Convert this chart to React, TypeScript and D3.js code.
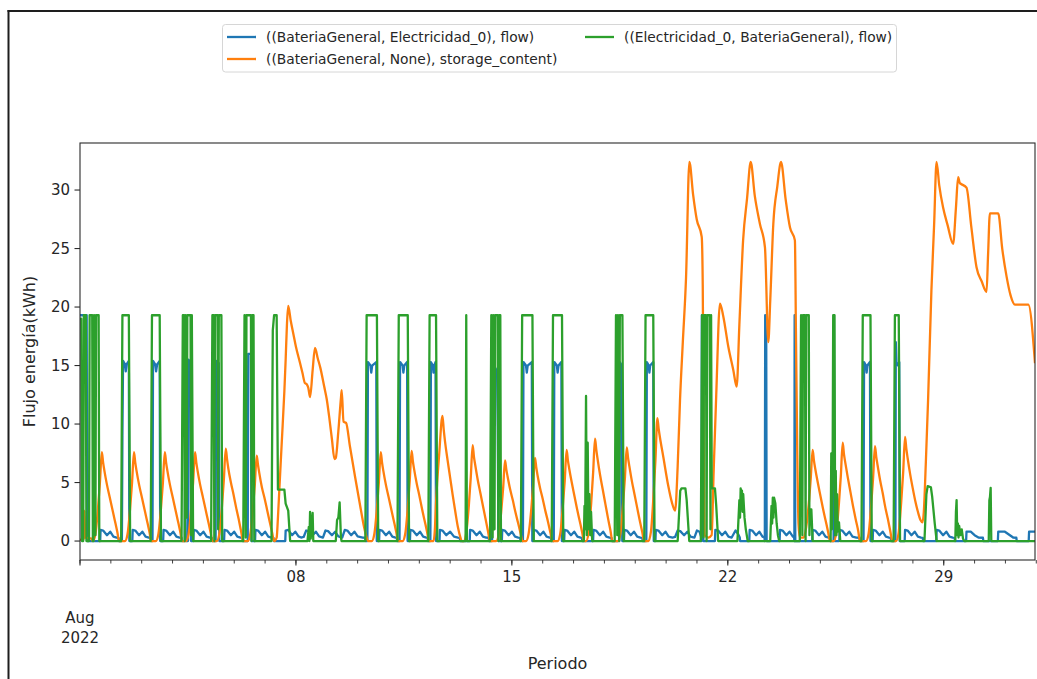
import React, { useEffect, useRef } from "react";
import * as d3 from "d3";

// Hourly battery data for August 2022. Each point is [hours since 2022-08-01 00:00, kWh].
const seriesLabels = [
  "((BateriaGeneral, Electricidad_0), flow)",
  "((BateriaGeneral, None), storage_content)",
  "((Electricidad_0, BateriaGeneral), flow)",
];
const seriesColors = ["#1f77b4", "#ff7f0e", "#2ca02c"];

const yTickValues = [0, 5, 10, 15, 20, 25, 30];
const monthLabel = ["Aug", "2022"];
const xAxisTitle = "Periodo";
const yAxisTitle = "Flujo energía(kWh)";

// Battery -> grid discharge flow
const dischargeFlow: [number, number][] = [
  [0, 19.3], [5.2, 19.3], [5.6, 0],
  [15.7, 0], [16, 0.95], [18, 0.9], [21, 0.5], [23.5, 0.8], [26, 0.38], [28.5, 0.3], [30, 0.28], [30.3, 0],
  [32.6, 0], [33, 9], [33.5, 15.4], [35, 15.1], [35.6, 14.5], [36.2, 15.1], [38, 15.4], [38.4, 0],
  [40.7, 0], [41, 0.95], [43, 0.9], [46, 0.5], [48.5, 0.8], [51, 0.38], [53.5, 0.3], [55, 0.28], [55.3, 0],
  [56.4, 0], [56.8, 15.4], [58.5, 15.1], [59.2, 14.5], [60, 15.1], [62, 15.4], [62.4, 0],
  [64.7, 0], [65, 0.95], [67, 0.9], [70, 0.5], [72.5, 0.8], [75, 0.38], [77.5, 0.3], [79, 0.28], [79.3, 0],
  [81.5, 0], [81.8, 5.2], [82.2, 0], [84, 0], [84.4, 15.5], [86, 15.3], [86.4, 0],
  [88.2, 0], [88.5, 0.95], [90.5, 0.9], [93.5, 0.5], [96, 0.8], [98.5, 0.38], [101, 0.3], [102.5, 0.28], [102.8, 0],
  [105.5, 0], [105.9, 15.4], [108, 15.2], [108.4, 0],
  [112.1, 0], [112.4, 0.95], [114.4, 0.9], [117.4, 0.5], [119.9, 0.8], [122.4, 0.38], [124.9, 0.3], [126.4, 0.28], [126.7, 0],
  [130.5, 0], [130.9, 16], [133, 16], [133.4, 0],
  [136.2, 0], [136.5, 0.95], [138.5, 0.9], [141.5, 0.5], [144, 0.8], [146.5, 0.38], [149, 0.3], [150.5, 0.28], [150.8, 0],
  [159.7, 0], [160, 0.9], [162, 0.95], [165, 0.5], [167.5, 0.8], [170, 0.4], [172, 0.3], [174, 0.35], [176, 0.9],
  [178, 0.85], [181, 0.5], [183.5, 0.8], [186, 0.4], [189, 0.3], [191, 0.9], [193, 0.85], [196, 0.5], [198.5, 0.8],
  [201, 0.4], [204, 0.3], [206, 0.95], [208, 0.9], [211, 0.5], [213.5, 0.8], [216, 0.4], [220, 0.3], [222, 0.28], [222.3, 0],
  [223.6, 0], [224, 15.3], [226, 15], [226.6, 14.4], [227.3, 15], [230.5, 15.3], [230.9, 0],
  [232.7, 0], [233, 0.95], [235, 0.9], [238, 0.5], [240.5, 0.8], [243, 0.38], [245.5, 0.3], [246.5, 0.28], [246.8, 0],
  [248.6, 0], [249, 15.3], [251, 15], [251.6, 14.4], [252.3, 15], [254.5, 15.3], [254.9, 0],
  [256.7, 0], [257, 0.95], [259, 0.9], [262, 0.5], [264.5, 0.8], [267, 0.38], [269.5, 0.3], [270.5, 0.28], [270.8, 0],
  [272.6, 0], [273, 15.3], [274.5, 15], [275, 14.4], [275.6, 15], [276.6, 15.3], [277, 0],
  [279.7, 0], [280, 0.95], [282, 0.9], [285, 0.5], [288, 0.8], [291, 0.38], [294, 0.3], [295.5, 0.28], [295.8, 0],
  [303.2, 0], [303.5, 0.95], [305.5, 0.9], [308.5, 0.5], [311, 0.8], [313.5, 0.38], [316, 0.3], [318, 0.28], [318.3, 0],
  [320.6, 0], [321, 15.2], [323, 14.8], [324.5, 14.5], [325, 9.9], [325.5, 0],
  [328.2, 0], [328.5, 0.95], [330.5, 0.9], [333.5, 0.5], [336, 0.8], [338.5, 0.38], [341, 0.3], [342.5, 0.28], [342.8, 0],
  [344.6, 0], [345, 15.3], [347, 15], [347.6, 14.4], [348.3, 15], [351.5, 15.3], [351.9, 0],
  [352.7, 0], [353, 0.95], [355, 0.9], [358, 0.5], [360.5, 0.8], [363, 0.38], [365.5, 0.3], [366.5, 0.28], [366.8, 0],
  [368.6, 0], [369, 15.3], [371, 15], [371.6, 14.4], [372.3, 15], [374.5, 15.3], [374.9, 0],
  [376.7, 0], [377, 0.95], [379, 0.9], [382, 0.5], [384.5, 0.8], [387, 0.38], [389.5, 0.3], [390.5, 0.28], [390.8, 0],
  [399.2, 0], [399.5, 0.95], [401.5, 0.9], [404.5, 0.5], [407, 0.8], [409.5, 0.38], [412, 0.3], [413.5, 0.28], [413.8, 0],
  [419.6, 0], [420, 15.3], [421.5, 15], [421.9, 0],
  [423.2, 0], [423.5, 0.95], [425.5, 0.9], [428.5, 0.5], [431, 0.8], [433.5, 0.38], [436, 0.3], [437.5, 0.28], [437.8, 0],
  [440.6, 0], [441, 15.3], [442.5, 15], [443, 14.4], [443.6, 15], [446, 15.3], [446.4, 0],
  [447.7, 0], [448, 0.95], [450, 0.9], [453, 0.5], [455.5, 0.8], [458, 0.38], [461, 0.3], [463, 0.35], [465, 0.9],
  [467, 0.85], [470, 0.5], [472.5, 0.8], [475, 0.38], [478, 0.3], [480, 0.9], [482, 0.8], [483.4, 0.3], [483.6, 0],
  [483.8, 19.3], [484.6, 14.6], [485, 0],
  [494, 0], [494.3, 0.95], [496.5, 0.9], [499.5, 0.5], [502, 0.8], [504.5, 0.38], [507, 0.3], [510, 0.9], [512, 0.6], [513.3, 0.3], [513.6, 0],
  [520.7, 0], [521, 0.95], [523, 0.9], [526, 0.5], [528.5, 0.8], [531, 0.38], [532.5, 0.3], [532.8, 0],
  [533.1, 19.3], [533.9, 17.2], [534.2, 0],
  [544.3, 0], [544.6, 0.95], [546.6, 0.9], [549.6, 0.5], [552, 0.8], [554.5, 0.4], [555.6, 0.3], [555.8, 0],
  [556.0, 19.3], [556.5, 0],
  [569.7, 0], [570, 0.95], [572, 0.9], [575, 0.5], [577.5, 0.8], [580, 0.38], [582, 0.3], [583.5, 0.28], [583.8, 0],
  [586.3, 0], [586.6, 19.3], [587, 0],
  [590.7, 0], [591, 0.95], [593, 0.9], [596, 0.5], [598.5, 0.8], [601, 0.38], [604, 0.3], [606.5, 0.28], [606.8, 0],
  [609.6, 0], [610, 15.3], [611.5, 15], [612, 14.4], [612.6, 15], [614.6, 15.3], [615, 0],
  [616.7, 0], [617, 0.95], [619, 0.9], [622, 0.5], [624.5, 0.8], [627, 0.38], [629.5, 0.3], [630.8, 0.28], [631.1, 0],
  [634.4, 0], [634.7, 17], [635.2, 15.3], [636.5, 15], [637.4, 15.3], [637.7, 0],
  [641.6, 0], [641.9, 0.95], [643.9, 0.9], [646.9, 0.5], [649.4, 0.8], [651.9, 0.38], [654.4, 0.3], [655.7, 0.28], [656, 0],
  [666.2, 0], [666.5, 0.95], [668.5, 0.9], [671.5, 0.5], [674, 0.8], [676.5, 0.38], [679, 0.3], [680.5, 0.28], [680.8, 0],
  [689.4, 0], [689.7, 0.8], [693, 0.8], [696, 0.5], [699, 0.3], [702.5, 0.28], [702.8, 0],
  [714.1, 0], [714.4, 0.8], [719.6, 0.8], [723.5, 0.5], [726, 0.3], [728.5, 0.28], [728.8, 0],
  [738.1, 0], [738.4, 0.8], [743, 0.8],
];

// Stored energy in the battery
const storageContent: [number, number][] = [
  [0, 0.1], [3, 0.2], [3.5, 2.6], [4, 0.3], [9, 0.2], [10, 0], [12, 0.6], [14, 2.8], [15.5, 5.0], [17, 7.6],
  [18, 6.7], [19, 6.0], [21, 4.8], [23, 3.8], [25, 2.8], [27, 1.8], [29, 0.8], [30.5, 0],
  [35, 0], [37, 0.6], [39, 2.8], [40.5, 5.0], [42, 7.6], [43, 6.7], [44, 6.0], [46, 4.8], [48, 3.8], [50, 2.8], [52, 1.8], [54, 0.8], [55.5, 0],
  [59, 0], [61, 0.6], [63, 2.8], [64.5, 5.0], [66, 7.6], [67, 6.7], [68, 6.0], [70, 4.8], [72, 3.8], [74, 2.8], [76, 1.8], [78, 0.8], [79.5, 0],
  [82.5, 0], [84.5, 0.6], [86.5, 2.8], [88, 5.0], [89.5, 7.6], [90.5, 6.7], [91.5, 6.0], [93.5, 4.8], [95.5, 3.8], [97.5, 2.8], [99.5, 1.8], [101.5, 0.8], [103, 0],
  [106.4, 0], [108.4, 0.6], [110.4, 2.9], [111.9, 5.2], [113.4, 7.9], [114.4, 7.0], [115.4, 6.2], [117.4, 5.0], [119.4, 4.0], [121.4, 2.9], [123.4, 1.9], [125.4, 0.8], [126.9, 0],
  [130.5, 0], [132.5, 0.6], [134.5, 2.7], [136, 4.8], [137.5, 7.3], [138.5, 6.5], [139.5, 5.8], [141.5, 4.6], [143.5, 3.7], [145.5, 2.7], [147.5, 1.7], [149.5, 0.7], [151, 0],
  [153, 0.3], [154, 2.0], [155, 4.2], [157, 8.5], [159, 12.8], [160, 15.5], [161, 18.5], [162, 20.1], [164, 18.8], [166, 17.7],
  [168, 16.6], [171, 15.3], [173, 14.4], [175, 13.5], [176.4, 13.4], [177.6, 13.1], [179, 12.3], [181, 14.6], [182.8, 16.5],
  [185, 15.6], [187, 14.8], [190, 13.2], [192, 12.1], [194, 10.5], [196, 8.7], [198, 7.0], [199, 7.1], [201, 9.4], [203, 12.2],
  [203.6, 12.9], [205, 10.2], [207, 10.1], [210, 8.1], [214, 5.5], [218, 3.0], [221, 1.2], [223, 0.3], [224, 0],
  [227, 0], [229, 0.6], [231, 2.8], [232.5, 5.0], [234, 7.6], [235, 6.7], [236, 6.0], [238, 4.8], [240, 3.8], [242, 2.8], [244, 1.8], [246, 0.8], [247.5, 0],
  [251, 0], [253, 0.6], [255, 2.8], [256.5, 5.1], [258, 7.7], [259, 6.8], [260, 6.1], [262, 4.9], [264, 3.9], [266, 2.8], [268, 1.8], [270, 0.8], [271.5, 0],
  [275, 0], [276, 0.8], [277, 3.3], [279.5, 7.5], [282, 10.7], [283, 9.5], [284, 8.5], [286, 6.9], [288, 5.4], [290, 3.9], [292, 2.5], [294, 1.2], [296, 0.3], [297, 0],
  [298.5, 0], [300.5, 0.7], [302.5, 3.0], [304, 5.4], [305.5, 8.2], [306.5, 7.2], [307.5, 6.5], [309.5, 5.2], [311.5, 4.1], [313.5, 3.0], [315.5, 1.9], [317.5, 0.8], [319, 0],
  [323.7, 0], [325.7, 0.5], [327.7, 2.5], [329.2, 4.5], [330.7, 6.9], [331.7, 6.1], [332.7, 5.5], [334.7, 4.4], [336.7, 3.5], [338.7, 2.5], [340.7, 1.6], [342.7, 0.7], [344.2, 0],
  [347, 0], [349, 0.6], [351, 2.6], [352.5, 4.7], [354, 7.1], [355, 6.3], [356, 5.6], [358, 4.5], [360, 3.6], [362, 2.6], [364, 1.7], [366, 0.7], [367.5, 0],
  [371.6, 0], [373.6, 0.6], [375.6, 2.9], [377.1, 5.1], [378.6, 7.8], [379.6, 6.9], [380.6, 6.2], [382.6, 5.0], [384.6, 3.9], [386.6, 2.8], [388.6, 1.8], [390.6, 0.8], [392.1, 0],
  [393.7, 0], [395.7, 0.7], [397.7, 3.2], [399.2, 5.8], [400.7, 8.75], [401.7, 7.8], [402.7, 7.0], [404.7, 5.6], [406.7, 4.4], [408.7, 3.2], [410.7, 2.0], [412.7, 0.9], [414.2, 0],
  [418.4, 0], [420.4, 0.6], [422.4, 3.0], [423.9, 5.3], [425.4, 8.0], [426.4, 7.1], [427.4, 6.4], [429.4, 5.1], [431.4, 4.0], [433.4, 2.9], [435.4, 1.8], [437.4, 0.8], [438.9, 0],
  [442.2, 0], [444.2, 0.8], [446.2, 3.9], [447.7, 6.9], [449.2, 10.5], [450.2, 9.6], [451, 9.0], [453.8, 7.2], [457.7, 4.7], [460.5, 3.3], [463, 2.6],
  [465, 6.4], [466.8, 12.0], [469, 17.0], [471.5, 22.5], [474.1, 32.4], [477, 29.6], [479.8, 27.5], [483.7, 26.0], [484.5, 21.9],
  [485.3, 8.0], [486, 0.5], [489, 0.3], [491.4, 0.5], [493, 6.0], [495, 12.5], [497.9, 20.3], [500.5, 19.2], [504.4, 16.6],
  [508.3, 14.6], [510.9, 13.2], [513, 18.5], [515.9, 25.7], [519, 29.3], [521.8, 32.4], [525, 29.5], [529, 27.1], [532.9, 25.1],
  [535.5, 17.0], [537, 20.5], [539.4, 27.1], [542.5, 30.3], [545.4, 32.4], [549, 29.2], [552.4, 26.8], [556.2, 25.7], [557, 18.0],
  [558, 8.0], [559, 1.5], [560, 0.3], [563, 0.3],
  [565, 1.2], [567, 3.2], [568.5, 5.3], [570, 7.8], [571, 6.9], [572, 6.2], [574, 5.0], [576, 3.9], [578, 2.8], [580, 1.8], [582, 0.8], [583.5, 0],
  [586.4, 0], [588.4, 0.7], [590.4, 3.1], [591.9, 5.5], [593.4, 8.4], [594.4, 7.4], [595.4, 6.7], [597.4, 5.4], [599.4, 4.2], [601.4, 3.0], [603.4, 1.9], [605.4, 0.9], [606.9, 0],
  [611.5, 0], [613.5, 0.6], [615.5, 3.0], [617, 5.3], [618.5, 8.1], [619.5, 7.2], [620.5, 6.5], [622.5, 5.2], [624.5, 4.1], [626.5, 2.9], [628.5, 1.9], [630.5, 0.8], [632, 0],
  [634.9, 0], [636.9, 0.7], [638.9, 3.3], [640.4, 5.8], [641.9, 8.9], [642.9, 7.9], [643.9, 7.1], [645.9, 5.7], [647.9, 4.5], [649.9, 3.4], [651.9, 2.5], [653.9, 1.8], [655.5, 1.6],
  [656.5, 2.5], [658, 6.5], [659.8, 12.0], [662.4, 21.4], [664.5, 27.0], [666.4, 32.4], [668.5, 30.4], [671.5, 28.5], [675, 27.0],
  [679.3, 25.4], [681.5, 28.5], [683.2, 31.1], [684.5, 30.6], [685.8, 30.5], [689.7, 30.2], [693.5, 26.8], [697.5, 23.4], [701.5, 22.2],
  [705.3, 21.3], [706.5, 24.5], [707.9, 28.0], [714.4, 28.0], [717.5, 25.0], [720.9, 22.6], [724, 21.0], [727.4, 20.2], [737.8, 20.2], [743, 15.2],
];

// Grid -> battery charge flow
const chargeFlow: [number, number][] = [
  [0, 19.0], [1, 19.0], [1.5, 0], [2.5, 0], [3, 19.3], [4.5, 19.3], [5, 0], [7, 0], [7.5, 19.3], [9.5, 19.3], [10, 0], [10.5, 0],
  [11, 19.3], [12, 0.5], [12.5, 19.3], [14.5, 19.3], [15, 0],
  [32, 0], [33, 19.3], [38, 19.3], [39, 0],
  [55, 0], [56, 19.3], [62, 19.3], [63, 0],
  [79, 0], [80, 19.3], [81, 19.3], [81.5, 0], [82, 19.3], [83, 2], [83.5, 19.3], [86, 19.3], [86.5, 0.5], [87, 19.3], [88, 0],
  [102, 0], [103, 19.3], [104, 19.3], [104.5, 0], [105, 19.3], [107, 19.3], [107.5, 1], [108, 19.3], [110, 19.3], [110.6, 0],
  [127, 0], [128, 19.3], [129, 0.3], [129.5, 19.3], [133, 19.3], [133.5, 0], [134, 19.3], [135, 19.3], [135.6, 0],
  [149, 0], [150, 18], [151, 19.3], [153, 19.3], [154, 4.4], [159, 4.4], [160, 3.2], [162, 2.6], [163.5, 0],
  [177, 0], [178, 1.2], [178.5, 0], [179, 2.5], [179.5, 0.2], [181, 2.4], [181.5, 0],
  [199, 0], [200, 1.8], [201, 2.0], [202, 3.3], [203, 0.3], [203.5, 0],
  [222, 0], [223, 19.3], [231, 19.3], [232, 0],
  [247, 0], [248, 19.3], [255, 19.3], [256, 0],
  [271, 0], [272, 19.3], [277, 19.3], [278, 0],
  [300, 0], [300.5, 19.3], [301, 0],
  [319, 0], [320, 19.3], [321, 0.3], [321.5, 19.3], [322.5, 1], [323, 19.3], [325, 19.3], [325.5, 0], [326, 19.3], [327, 19.3], [327.5, 0],
  [343, 0], [344, 19.3], [352, 19.3], [353, 0],
  [367, 0], [368, 19.3], [375, 19.3], [376, 0],
  [392, 0], [392.5, 3], [393, 1], [393.7, 12.4], [394.3, 0.5], [395, 8.4], [395.6, 1], [396.3, 4], [397, 0.5], [397.6, 2.5], [398.5, 0],
  [416, 0], [417, 19.3], [418, 0.5], [418.5, 19.3], [419.5, 0], [420, 19.3], [422, 19.3], [423, 0],
  [439, 0], [440, 19.3], [446, 19.3], [447, 0],
  [465, 0], [467, 4.3], [468, 4.5], [471, 4.5], [472, 3.5], [474, 0],
  [483, 0], [484, 19.3], [485, 0.3], [485.5, 19.3], [487, 19.3], [487.5, 0], [488, 19.3], [490, 19.3], [490.5, 1], [491, 19.3],
  [491.5, 4.5], [494, 4.5], [495, 3], [496.5, 0],
  [511.5, 0], [513, 3.5], [513.5, 2], [514, 4.5], [514.5, 3], [515, 4.3], [515.5, 2.5], [516, 4], [517, 2], [518, 1], [519.5, 0],
  [537, 0], [538, 3], [538.5, 1.5], [539, 3.7], [539.5, 2], [540, 3.7], [541, 3.2], [542, 1.5], [543, 0.5], [544, 0],
  [560, 0], [561, 19.3], [562, 0.5], [562.5, 19.3], [564, 19.3], [564.5, 0], [565, 19.3], [567, 19.3], [567.5, 0.5], [568, 2.7], [569, 2.7], [570, 0],
  [584, 0], [584.5, 7.5], [585, 1], [585.5, 5], [586, 19.3], [587, 19.3], [587.5, 0.5], [588, 6], [588.5, 0.5], [589, 4], [589.5, 0.8], [590.5, 1.6], [591.5, 0],
  [608, 0], [609, 19.3], [615, 19.3], [616, 0],
  [633, 0], [634, 19.3], [637, 19.3], [638, 0],
  [657, 0], [658.5, 4.0], [659.5, 4.7], [662, 4.6], [663, 3.8], [665, 1.5], [666.5, 0],
  [681, 0], [681.5, 2.5], [682, 3.5], [682.5, 0.5], [683, 1.5], [683.5, 0.3], [684, 1.3], [685, 0.5], [686, 1.0], [687, 0.2], [688, 0],
  [707, 0], [707.5, 3.5], [708, 3.8], [708.5, 4.55], [709, 0],
  [743, 0],
];

const seriesData = [dischargeFlow, storageContent, chargeFlow];

const FONT = "DejaVu Sans, sans-serif";

export default function App() {
  const ref = useRef<SVGSVGElement>(null);

  useEffect(() => {
    const svg = d3.select(ref.current);
    svg.selectAll("*").remove();

    const width = 1037;
    const height = 679;
    const plot = { left: 80, right: 1035, top: 143, bottom: 560 };

    const start = new Date(2022, 7, 1, 0, 0, 0);
    const end = new Date(2022, 7, 31, 23, 0, 0);
    const at = (h: number) => new Date(start.getTime() + h * 3600000);

    const x = d3.scaleTime().domain([start, end]).range([plot.left, plot.right]);
    const y = d3.scaleLinear().domain([-1.62, 34.02]).range([plot.bottom, plot.top]);

    svg.append("rect").attr("width", width).attr("height", height).attr("fill", "#ffffff");

    // outer frame
    svg.append("line").attr("x1", 8.5).attr("x2", 8.5).attr("y1", 10).attr("y2", height)
      .attr("stroke", "#1e1e1e").attr("stroke-width", 2);
    svg.append("line").attr("x1", 7.5).attr("x2", width).attr("y1", 11).attr("y2", 11)
      .attr("stroke", "#1e1e1e").attr("stroke-width", 2);

    // clip for the data lines
    svg.append("defs").append("clipPath").attr("id", "plot-clip")
      .append("rect")
      .attr("x", plot.left).attr("y", plot.top)
      .attr("width", plot.right - plot.left).attr("height", plot.bottom - plot.top);

    const straight = d3.line<[number, number]>()
      .x((d) => x(at(d[0])))
      .y((d) => y(d[1]));
    const smooth = d3.line<[number, number]>()
      .x((d) => x(at(d[0])))
      .y((d) => y(d[1]))
      .curve(d3.curveMonotoneX);

    const g = svg.append("g").attr("clip-path", "url(#plot-clip)");
    seriesData.forEach((data, i) => {
      g.append("path")
        .datum(data)
        .attr("d", i === 1 ? smooth : straight)
        .attr("fill", "none")
        .attr("stroke", seriesColors[i])
        .attr("stroke-width", 2.3)
        .attr("stroke-linejoin", "round")
        .attr("stroke-linecap", "butt");
    });

    // spines
    svg.append("rect")
      .attr("x", plot.left).attr("y", plot.top)
      .attr("width", plot.right - plot.left).attr("height", plot.bottom - plot.top)
      .attr("fill", "none").attr("stroke", "#2b2b2b").attr("stroke-width", 1.1);

    // y axis ticks
    const yAxis = svg.append("g");
    yTickValues.forEach((v) => {
      const py = y(v);
      yAxis.append("line").attr("x1", plot.left - 5.5).attr("x2", plot.left)
        .attr("y1", py).attr("y2", py).attr("stroke", "#2b2b2b").attr("stroke-width", 1.1);
      yAxis.append("text").attr("x", plot.left - 10).attr("y", py)
        .attr("text-anchor", "end").attr("dominant-baseline", "central")
        .attr("font-family", FONT).attr("font-size", 15).attr("fill", "#262626")
        .text(String(v));
    });

    // x axis: daily minor ticks, weekly major ticks
    const xAxis = svg.append("g");
    const days = d3.timeDay.range(start, d3.timeDay.offset(end, 1));
    days.forEach((d) => {
      const px = x(d);
      xAxis.append("line").attr("x1", px).attr("x2", px)
        .attr("y1", plot.bottom).attr("y2", plot.bottom + 3.5)
        .attr("stroke", "#2b2b2b").attr("stroke-width", 0.9);
    });
    const weeks = d3.timeMonday.range(start, d3.timeDay.offset(end, 1));
    const dayFmt = d3.timeFormat("%d");
    weeks.forEach((d) => {
      const px = x(d);
      xAxis.append("line").attr("x1", px).attr("x2", px)
        .attr("y1", plot.bottom).attr("y2", plot.bottom + 5.5)
        .attr("stroke", "#2b2b2b").attr("stroke-width", 1.1);
      if (d.getTime() === start.getTime()) {
        monthLabel.forEach((t, k) => {
          xAxis.append("text").attr("x", px).attr("y", 618 + k * 20)
            .attr("text-anchor", "middle").attr("dominant-baseline", "central")
            .attr("font-family", FONT).attr("font-size", 15).attr("fill", "#262626")
            .text(t);
        });
      } else {
        xAxis.append("text").attr("x", px).attr("y", 577)
          .attr("text-anchor", "middle").attr("dominant-baseline", "central")
          .attr("font-family", FONT).attr("font-size", 15).attr("fill", "#262626")
          .text(dayFmt(d));
      }
    });

    // axis titles
    svg.append("text").attr("x", (plot.left + plot.right) / 2).attr("y", 663)
      .attr("text-anchor", "middle").attr("dominant-baseline", "central")
      .attr("font-family", FONT).attr("font-size", 16).attr("fill", "#262626")
      .text(xAxisTitle);
    svg.append("text")
      .attr("transform", `translate(29,${(plot.top + plot.bottom) / 2}) rotate(-90)`)
      .attr("text-anchor", "middle").attr("dominant-baseline", "central")
      .attr("font-family", FONT).attr("font-size", 16).attr("fill", "#262626")
      .text(yAxisTitle);

    // legend (two columns, filled column by column)
    const legend = svg.append("g");
    legend.append("rect")
      .attr("x", 222.5).attr("y", 24.5).attr("width", 674).attr("height", 47.5)
      .attr("rx", 3).attr("fill", "#ffffff").attr("fill-opacity", 0.8)
      .attr("stroke", "#d6d6d6").attr("stroke-width", 1);
    const slots = [
      { hx: 227, ty: 37 },
      { hx: 227, ty: 59 },
      { hx: 585, ty: 37 },
    ];
    seriesLabels.forEach((label, i) => {
      const s = slots[i];
      legend.append("line")
        .attr("x1", s.hx).attr("x2", s.hx + 29).attr("y1", s.ty).attr("y2", s.ty)
        .attr("stroke", seriesColors[i]).attr("stroke-width", 2.3);
      legend.append("text")
        .attr("x", s.hx + 39).attr("y", s.ty)
        .attr("dominant-baseline", "central")
        .attr("font-family", FONT).attr("font-size", 13.8).attr("fill", "#262626")
        .text(label);
    });
  }, []);

  return (
    <svg
      ref={ref}
      width={1037}
      height={679}
      style={{ position: "absolute", left: 0, top: 0, display: "block" }}
    />
  );
}
